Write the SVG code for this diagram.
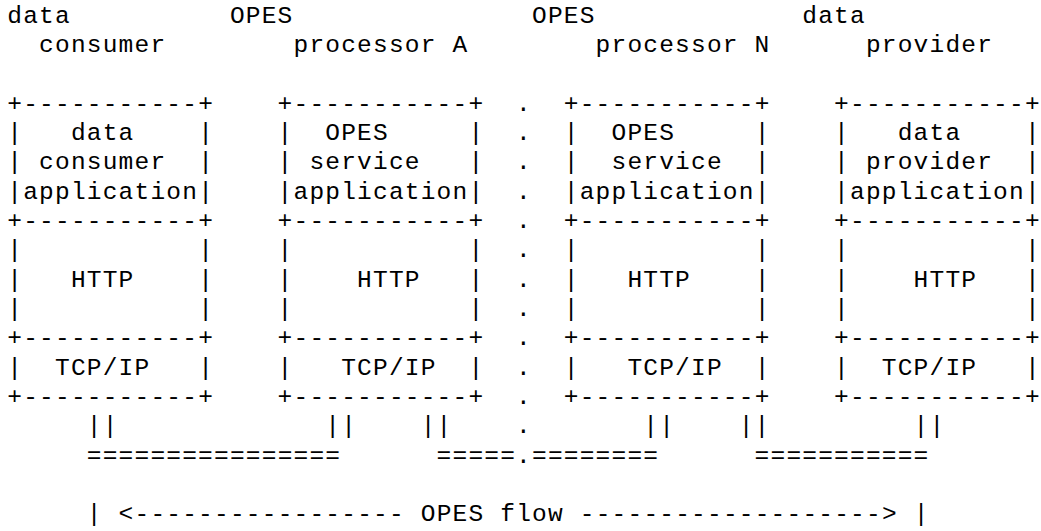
<svg xmlns="http://www.w3.org/2000/svg" width="1041" height="531" viewBox="0 0 1041 531" xml:space="preserve">
<style>
text { font-family: "Liberation Mono", "DejaVu Sans Mono", monospace; font-size: 24.5px; letter-spacing: 1.2px; white-space: pre; fill: #000; }
</style>
<rect width="1041" height="531" fill="#fff"/>
<g id="header-consumer"><text x="7.3" y="22.5">data</text><text x="39.1" y="51.85">consumer</text></g>
<g id="header-processor-a"><text x="229.9" y="22.5">OPES</text><text x="293.5" y="51.85">processor A</text></g>
<g id="header-processor-n"><text x="532" y="22.5">OPES</text><text x="595.6" y="51.85">processor N</text></g>
<g id="header-provider"><text x="802.3" y="22.5">data</text><text x="865.9" y="51.85">provider</text></g>
<g id="consumer-stack" transform="translate(7.3,0)">
<text y="110.55">+-----------+</text><text y="139.9">|   data    |</text><text y="169.25">| consumer  |</text><text y="198.6">|application|</text><text y="227.95">+-----------+</text><text y="257.3">|           |</text><text y="286.65">|   HTTP    |</text><text y="316">|           |</text><text y="345.35">+-----------+</text><text y="374.7">|  TCP/IP   |</text><text y="404.05">+-----------+</text>
</g>
<g id="processor-a-stack" transform="translate(277.6,0)">
<text y="110.55">+-----------+</text><text y="139.9">|  OPES     |</text><text y="169.25">| service   |</text><text y="198.6">|application|</text><text y="227.95">+-----------+</text><text y="257.3">|           |</text><text y="286.65">|    HTTP   |</text><text y="316">|           |</text><text y="345.35">+-----------+</text><text y="374.7">|   TCP/IP  |</text><text y="404.05">+-----------+</text>
</g>
<g id="processor-n-stack" transform="translate(563.8,0)">
<text y="110.55">+-----------+</text><text y="139.9">|  OPES     |</text><text y="169.25">|  service  |</text><text y="198.6">|application|</text><text y="227.95">+-----------+</text><text y="257.3">|           |</text><text y="286.65">|   HTTP    |</text><text y="316">|           |</text><text y="345.35">+-----------+</text><text y="374.7">|   TCP/IP  |</text><text y="404.05">+-----------+</text>
</g>
<g id="provider-stack" transform="translate(834.1,0)">
<text y="110.55">+-----------+</text><text y="139.9">|   data    |</text><text y="169.25">| provider  |</text><text y="198.6">|application|</text><text y="227.95">+-----------+</text><text y="257.3">|           |</text><text y="286.65">|    HTTP   |</text><text y="316">|           |</text><text y="345.35">+-----------+</text><text y="374.7">|  TCP/IP   |</text><text y="404.05">+-----------+</text>
</g>
<g id="boundary" transform="translate(516.1,0)">
<text y="110.55">.</text><text y="139.9">.</text><text y="169.25">.</text><text y="198.6">.</text><text y="227.95">.</text><text y="257.3">.</text><text y="286.65">.</text><text y="316">.</text><text y="345.35">.</text><text y="374.7">.</text><text y="404.05">.</text><text y="433.4">.</text>
</g>
<g id="connectors">
<text x="86.8" y="433.4">||</text><text x="325.3" y="433.4">||</text><text x="420.7" y="433.4">||</text><text x="643.3" y="433.4">||</text><text x="738.7" y="433.4">||</text><text x="913.6" y="433.4">||</text>
<text x="86.8" y="462.75">================</text><text x="436.6" y="462.75">=====.========</text><text x="754.6" y="462.75">===========</text>
</g>
<g id="opes-flow"><text x="86.8" y="521.45">| &lt;----------------- OPES flow -------------------&gt; |</text></g>
</svg>
